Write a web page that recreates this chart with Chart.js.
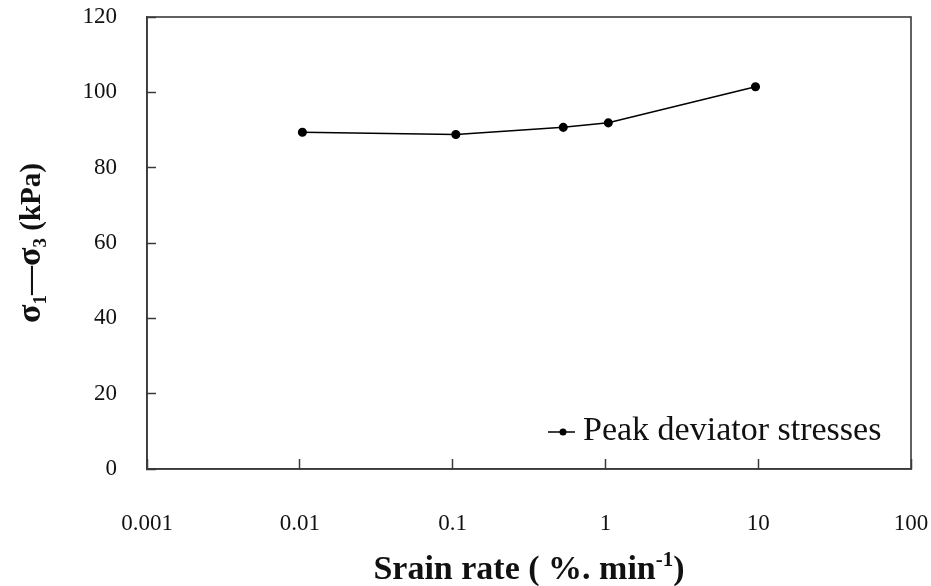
<!DOCTYPE html>
<html lang="en">
<head>
  <meta charset="UTF-8">
  <title>Peak deviator stresses vs strain rate</title>
  <style>
    html, body { margin: 0; padding: 0; background: #fff; }
    #chartcontainer { width: 931px; height: 586px; }
  </style>
</head>
<body>
  <div id="chartcontainer">
    <canvas id="myChart" width="931" height="586"></canvas>
  </div>

  <script src="https://cdn.jsdelivr.net/npm/chart.js"></script>
  <script>
const strainRates = [0.0104, 0.105, 0.53, 1.045, 9.6];
const peakStresses = [89.4, 88.8, 90.7, 91.9, 101.5];
const xTickValues = [0.001, 0.01, 0.1, 1, 10, 100];
const xTickLabels = ['0.001', '0.01', '0.1', '1', '10', '100'];
const seriesLabel = 'Peak deviator stresses';

const serif = '"Liberation Serif", "Times New Roman", serif';
const axisColor = '#3a3a3a';

// no extra room for edge labels, the plot box is fixed
function noPadding(s) {
  s.paddingLeft = 0;
  s.paddingRight = 0;
  s.paddingTop = 0;
  s.paddingBottom = 0;
}

// frame box, axis titles with sub/superscripts, and the in-plot legend
const decorations = {
  id: 'decorations',
  afterDraw(chart) {
    const ctx = chart.ctx;
    const area = chart.chartArea;
    ctx.save();

    ctx.strokeStyle = axisColor;
    ctx.lineWidth = 1.6;
    ctx.strokeRect(area.left, area.top, area.right - area.left, area.bottom - area.top);

    ctx.fillStyle = '#111';
    ctx.textBaseline = 'alphabetic';

    // y title: σ1—σ3 (kPa), rotated
    const yParts = [
      { t: 'σ', size: 34, dy: 0 },
      { t: '1', size: 19, dy: 6 },
      { t: '—', size: 29, dy: -1 },
      { t: 'σ', size: 34, dy: 0 },
      { t: '3', size: 19, dy: 6 },
      { t: ' (kPa)', size: 29, dy: 0 }
    ];
    let total = 0;
    yParts.forEach(p => {
      ctx.font = 'bold ' + p.size + 'px ' + serif;
      p.w = ctx.measureText(p.t).width;
      total += p.w;
    });
    ctx.save();
    ctx.translate(40, (area.top + area.bottom) / 2);
    ctx.rotate(-Math.PI / 2);
    let x = -total / 2;
    yParts.forEach(p => {
      ctx.font = 'bold ' + p.size + 'px ' + serif;
      ctx.fillText(p.t, x, p.dy);
      x += p.w;
    });
    ctx.restore();

    // x title: Srain rate ( %. min-1)
    const xParts = [
      { t: 'Srain rate ( %. min', size: 34, dy: 0 },
      { t: '-1', size: 21, dy: -13 },
      { t: ')', size: 34, dy: 0 }
    ];
    total = 0;
    xParts.forEach(p => {
      ctx.font = 'bold ' + p.size + 'px ' + serif;
      p.w = ctx.measureText(p.t).width;
      total += p.w;
    });
    x = (area.left + area.right) / 2 - total / 2;
    xParts.forEach(p => {
      ctx.font = 'bold ' + p.size + 'px ' + serif;
      ctx.fillText(p.t, x, 579 + p.dy);
      x += p.w;
    });

    // legend, in the lower right of the plot
    ctx.font = '34px ' + serif;
    const tx = area.right - 328;
    const ly = area.bottom - 37;
    ctx.fillText(seriesLabel, tx, ly + 8);
    ctx.strokeStyle = '#000';
    ctx.lineWidth = 1.5;
    ctx.beginPath();
    ctx.moveTo(tx - 35, ly);
    ctx.lineTo(tx - 8, ly);
    ctx.stroke();
    ctx.beginPath();
    ctx.arc(tx - 20, ly, 3.5, 0, Math.PI * 2);
    ctx.fillStyle = '#000';
    ctx.fill();

    ctx.restore();
  }
};

let chart;

function drawChart() {
  const ctx = document.getElementById('myChart').getContext('2d');

  chart = new Chart(ctx, {
    type: 'line',
    data: {
      datasets: [{
        label: seriesLabel,
        data: strainRates.map((r, i) => ({ x: r, y: peakStresses[i] })),
        borderColor: '#000',
        backgroundColor: '#000',
        borderWidth: 1.5,
        pointRadius: 3.8,
        pointHoverRadius: 3.8,
        tension: 0,
        fill: false
      }]
    },
    options: {
      responsive: false,
      animation: false,
      devicePixelRatio: 1,
      layout: {
        padding: { top: 17, right: 20, left: 0, bottom: 0 }
      },
      plugins: {
        legend: { display: false },
        tooltip: { enabled: false }
      },
      scales: {
        x: {
          type: 'logarithmic',
          min: 0.001,
          max: 100,
          afterBuildTicks: s => { s.ticks = xTickValues.map(v => ({ value: v })); },
          afterFit: s => { s.height = 117; noPadding(s); },
          grid: {
            drawOnChartArea: false,
            drawTicks: true,
            tickLength: -10,
            tickColor: axisColor,
            tickWidth: 1.5
          },
          border: { color: axisColor, width: 1.6 },
          ticks: {
            autoSkip: false,
            maxRotation: 0,
            padding: 51,
            color: '#111',
            font: { family: serif, size: 23 },
            callback: (v, i) => xTickLabels[i]
          }
        },
        y: {
          min: 0,
          max: 120,
          afterFit: s => { s.width = 147; noPadding(s); },
          grid: {
            drawOnChartArea: false,
            drawTicks: true,
            tickLength: -9,
            tickColor: axisColor,
            tickWidth: 1.5
          },
          border: { color: axisColor, width: 1.6 },
          ticks: {
            stepSize: 20,
            padding: 39,
            color: '#111',
            font: { family: serif, size: 23 }
          }
        }
      }
    },
    plugins: [decorations]
  });
}

drawChart();
  </script>
</body>
</html>
